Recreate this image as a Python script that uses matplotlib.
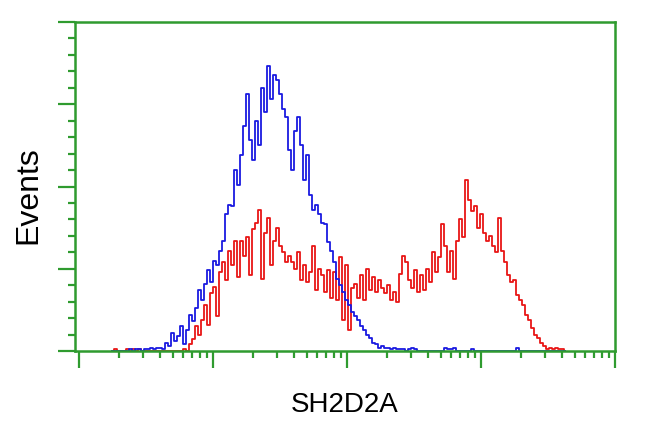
import numpy as np
import matplotlib.pyplot as plt

OUTFILE = "out.png"

# histogram channels, evenly spaced in log10 of fluorescence
log_channel = np.linspace(0.246, 3.627, 152)
channel = 10 ** log_channel

# control (blue) and SH2D2A transfected (red) event counts per channel
blue_counts = [
    0, 0, 0, 0, 0, 0, 1, 0, 1, 1, 0, 1, 1, 2, 1, 2,
    2, 1, 5, 3, 11, 6, 9, 15, 4, 13,
    22, 18, 26, 37, 31, 41, 49, 42, 55, 52,
    61, 67, 83, 89, 88, 110, 101, 119, 137, 156,
    128, 116, 140, 125, 160, 145, 173, 153, 168, 165,
    156, 147, 142, 122, 110, 134, 142, 125, 104, 119,
    95, 86, 89, 83, 78, 77, 66, 61, 54, 44,
    40, 36, 31, 28, 24, 21, 19, 15, 13, 10,
    8, 5, 4, 2, 3, 2, 2, 1, 2, 1,
    1,
    1, 0, 1, 2, 1, 0, 0, 0, 0, 0,
    0, 0, 0, 0, 2, 1, 1, 2, 0, 0,
    0, 0, 0, 1, 0, 0, 0, 0, 0, 0,
    0, 0, 0, 0, 0, 0, 0, 0, 2, 0,
    0, 0, 0, 0, 0, 0, 0, 0, 0, 0,
    0, 0, 0, 0, 0,
]
red_counts = [
    0, 1, 0, 0, 0, 1, 0, 1, 0, 1, 0, 0, 0, 0, 0, 0,
    0, 0, 0, 0, 0, 0, 0, 0, 1, 0,
    4, 7, 15, 10, 19, 28, 16, 35, 39, 21,
    48, 54, 43, 61, 52, 67, 45, 67, 58, 69,
    46, 74, 78, 86, 44, 72, 81, 52, 67, 75,
    64, 60, 54, 58, 54, 50, 60, 43, 52, 42,
    48, 64, 37, 50, 46, 36, 49, 32, 48, 31,
    57, 19, 52, 13, 38, 41, 32, 46, 31, 50,
    37, 45, 36, 43, 38, 35, 40, 31, 36, 30,
    47, 58, 54, 43, 38, 49, 36, 46, 37, 50,
    42, 60, 48, 57, 77, 64, 48, 61, 44, 67,
    80, 69, 104, 92, 85, 88, 75, 83, 72, 67,
    70, 64, 60, 81, 61, 54, 46, 42, 43, 34,
    31, 28, 22, 19, 14, 10, 8, 5, 3, 1,
    2, 1, 2, 1, 1, 0,
]

GREEN = '#2f9b2f'

fig = plt.figure(figsize=(6.5, 4.32), dpi=100)
ax = fig.add_axes([75/650, 1 - 351/432, 540/650, 329/432])

ax.step(channel, red_counts, where='mid', color='#e81616', lw=1.3)
ax.step(channel, blue_counts, where='mid', color='#1a1ae0', lw=1.3)

ax.set_xscale('log')
ax.set_xlim(10 ** -0.03, 10 ** 4)
ax.set_ylim(0, 200)
ax.set_yticks(np.arange(0, 201, 50))
ax.set_yticks(np.arange(0, 201, 10), minor=True)
ax.tick_params(which='both', colors=GREEN, width=1.6, direction='out',
               labelleft=False, labelbottom=False)
ax.tick_params(which='major', length=12)
ax.tick_params(which='minor', length=5)
for side in ax.spines.values():
    side.set_color(GREEN)
    side.set_linewidth(1.8)

ax.set_xlabel('SH2D2A', fontsize=20, family='Liberation Sans', va='center')
ax.xaxis.set_label_coords(0.5, (351 - 405) / 329)
ax.set_ylabel('Events', fontsize=23, family='Liberation Sans', va='center')
ax.yaxis.set_label_coords((28 - 75) / 540, (351 - 195) / 329)

fig.savefig(OUTFILE)
